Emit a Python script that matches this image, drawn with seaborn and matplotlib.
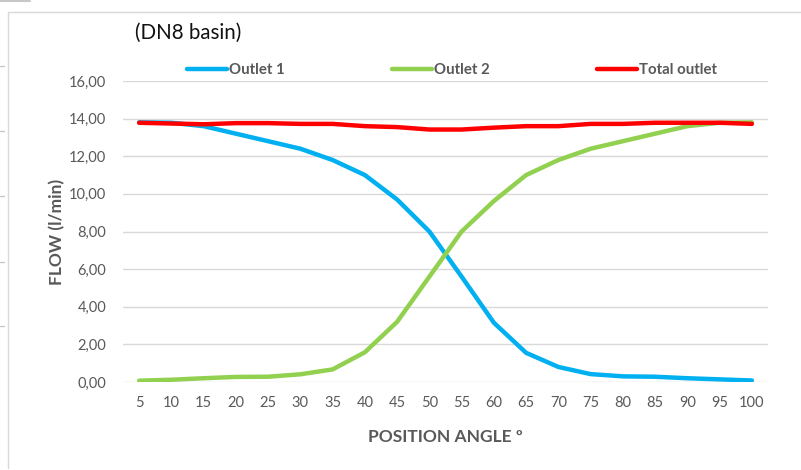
import matplotlib
matplotlib.use("Agg")
import matplotlib.pyplot as plt
from matplotlib.lines import Line2D
import pandas as pd
import seaborn as sns

# Data
angles = [5, 10, 15, 20, 25, 30, 35, 40, 45, 50, 55, 60, 65, 70, 75, 80, 85, 90, 95, 100]
outlet_1 = [13.80, 13.78, 13.60, 13.20, 12.80, 12.40, 11.80, 11.00, 9.70, 8.00,
            5.60, 3.15, 1.55, 0.80, 0.42, 0.30, 0.28, 0.20, 0.14, 0.08]
outlet_2 = [0.07, 0.12, 0.20, 0.27, 0.28, 0.41, 0.67, 1.58, 3.20, 5.60,
            8.00, 9.62, 11.00, 11.80, 12.40, 12.80, 13.20, 13.60, 13.78, 13.80]
total_outlet = [13.78, 13.74, 13.70, 13.76, 13.76, 13.72, 13.72, 13.60, 13.55, 13.42,
                13.42, 13.52, 13.60, 13.60, 13.72, 13.72, 13.78, 13.78, 13.78, 13.72]
series_names = ["Outlet 1", "Outlet 2", "Total outlet"]
series_colors = ["#00B0F0", "#92D050", "#FF0000"]
y_ticks = [0, 2, 4, 6, 8, 10, 12, 14, 16]
y_tick_labels = ["0,00", "2,00", "4,00", "6,00", "8,00", "10,00", "12,00", "14,00", "16,00"]

df = pd.DataFrame({
    "angle": angles * 3,
    "flow": outlet_1 + outlet_2 + total_outlet,
    "series": [n for n in series_names for _ in angles],
})

sns.set_theme(style="white")
plt.rcParams["font.family"] = ["Lato", "DejaVu Sans"]

W, H = 801, 470
fig = plt.figure(figsize=(W / 100, H / 100), dpi=100)
fig.patch.set_facecolor("white")

# plot area in pixel terms
left, right, top, bottom = 123, 768, 81, 382
ax = fig.add_axes([left / W, 1 - bottom / H, (right - left) / W, (bottom - top) / H])

sns.lineplot(data=df, x="angle", y="flow", hue="series", hue_order=series_names,
             palette=series_colors, linewidth=3.2, ax=ax, legend=False,
             solid_capstyle="round", solid_joinstyle="round")

ax.set_xlim(2.5, 102.5)
ax.set_ylim(0, 16)
ax.set_xticks(angles)
ax.set_xticklabels([str(a) for a in angles])
ax.set_yticks(y_ticks)
ax.set_yticklabels(y_tick_labels)
ax.tick_params(axis="both", length=0, labelsize=10.5, labelcolor="#595959")
ax.tick_params(axis="y", pad=12)
ax.tick_params(axis="x", pad=10)
ax.grid(axis="y", color="#D9D9D9", linewidth=1)
ax.set_axisbelow(True)
for s in ax.spines.values():
    s.set_visible(False)

ax.set_xlabel("POSITION ANGLE º", fontsize=12.5, fontweight="bold", color="#595959", va="center")
ax.set_ylabel("FLOW (l/min)", fontsize=12.5, fontweight="bold", color="#595959", va="center")
ax.xaxis.set_label_coords(0.5, (bottom - 437) / (bottom - top))
ax.yaxis.set_label_coords((57 - left) / (right - left), 0.5)

handles = [Line2D([0], [0], color=c, linewidth=3.2, solid_capstyle="round") for c in series_colors]
fig.legend(handles, series_names, loc="center", bbox_to_anchor=(452 / W, 1 - 70 / H),
           ncol=3, frameon=False, handlelength=2.7, handletextpad=0.15,
           columnspacing=7.1, labelcolor="#595959",
           prop={"weight": "bold", "size": 10.8})

fig.text(135 / W, 1 - 33 / H, "(DN8 basin)", fontsize=14.8, color="#111111",
         ha="left", va="center")

# chart frame and spreadsheet remnants around it
frame_color = "#D9D9D9"
fig.add_artist(Line2D([8 / W, 8 / W], [1 - 12 / H, 1 - 468 / H], color=frame_color, lw=1,
                      transform=fig.transFigure))
fig.add_artist(Line2D([8 / W, 1.0], [1 - 12 / H, 1 - 12 / H], color=frame_color, lw=1,
                      transform=fig.transFigure))
fig.add_artist(Line2D([0, 30 / W], [1 - 1 / H, 1 - 1 / H], color="#C8C8C8", lw=1.5,
                      transform=fig.transFigure))
for yy in [66, 131, 196, 262, 326]:
    fig.add_artist(Line2D([0, 4 / W], [1 - yy / H, 1 - yy / H], color="#C8C8C8", lw=1,
                          transform=fig.transFigure))

fig.savefig("out.png", dpi=100, facecolor="white")
